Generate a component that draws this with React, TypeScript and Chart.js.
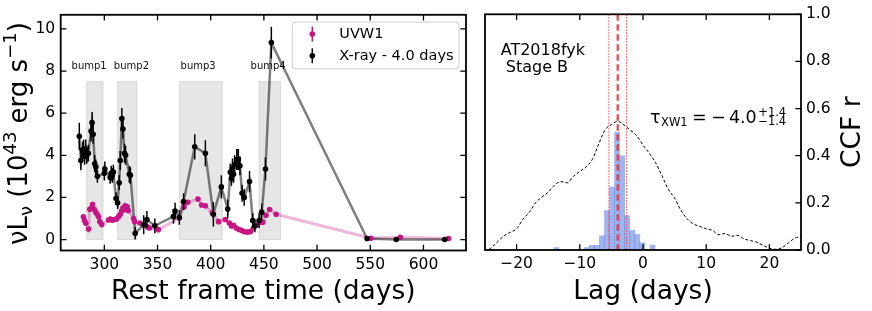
import React, { useEffect, useRef } from "react";
import { Chart, registerables } from "chart.js";

Chart.register(...registerables);

const FONT = '"DejaVu Sans", "Liberation Sans", sans-serif';
const MINUS = "\u2212";

// ---------------- Left panel data ----------------
const xrayDays = [
  276.5, 278.0, 279.5, 280.5, 281.5, 282.5, 283.5, 285.0, 287.5, 288.5, 289.5, 291.0, 292.0, 293.5,
  300.0, 300.5, 305.5, 306.5, 307.5, 308.5, 311.0, 312.5, 314.0, 315.0, 316.5, 317.5, 319.0, 320.0,
  323.5, 324.5, 329.0, 337.0, 340.0, 347.5, 365.0, 366.5, 370.5, 374.5, 385.0, 395.0, 402.5, 410.0,
  416.0, 418.5, 419.5, 420.5, 421.5, 422.5, 424.5, 426.0, 427.5, 429.5, 431.5, 436.5, 439.5, 441.5,
  445.5, 448.0, 451.5, 457.0, 547.0, 574.5, 620.0,
];
const xrayFlux = [
  4.9, 3.75, 4.25, 4.3, 3.95, 4.3, 4.0, 4.1, 5.15, 5.55, 5.0, 3.6, 3.45, 3.0,
  3.15, 3.35, 2.95, 3.15, 3.05, 3.2, 1.95, 1.75, 2.7, 3.75, 5.75, 5.25, 4.1, 4.0,
  3.1, 3.05, 0.3, 0.7, 0.95, 0.65, 1.1, 1.35, 1.05, 1.8, 4.4, 4.1, 1.2, 2.5,
  1.45, 3.2, 2.9, 3.4, 3.1, 3.55, 3.8, 3.8, 3.5, 2.2, 2.0, 2.75, 0.9, 0.65,
  0.9, 1.3, 3.35, 9.35, 0.05, 0.0, 0.0,
];
const xrayErr = [
  0.65, 0.45, 0.4, 0.45, 0.4, 0.45, 0.4, 0.4, 0.5, 0.5, 0.45, 0.4, 0.35, 0.3,
  0.35, 0.35, 0.3, 0.35, 0.35, 0.35, 0.3, 0.3, 0.35, 0.45, 0.5, 0.45, 0.45, 0.45,
  0.4, 0.4, 0.3, 0.45, 0.4, 0.35, 0.35, 0.4, 0.35, 0.4, 0.6, 0.62, 0.58, 0.55,
  0.45, 0.4, 0.35, 0.45, 0.4, 0.45, 0.5, 0.5, 0.45, 0.4, 0.4, 0.5, 0.35, 0.3,
  0.35, 0.4, 0.55, 0.75, 0.1, 0.1, 0.1,
];
const uvDays = [
  280.3, 281.3, 282.6, 285.2, 286.3, 287.5, 289.0, 290.5, 292.0, 293.2, 294.6, 295.8, 297.6,
  304.0, 305.5, 307.5, 309.5, 311.5, 313.5, 315.0, 316.3, 317.5, 318.5, 319.5, 320.5, 321.5, 322.5,
  327.5, 328.5, 333.5, 340.5, 342.5, 350.8, 370.5, 375.0, 378.5, 388.0, 391.5, 395.0, 401.5,
  407.4, 413.7, 417.5, 419.5, 421.5, 424.0, 426.5, 429.0, 431.0, 433.5, 435.5, 437.5, 440.0,
  442.5, 446.0, 449.0, 452.0, 455.4, 461.5, 550.6, 578.2, 623.6,
];
const uvFlux = [
  1.08, 0.9, 0.77, 0.5, 1.44, 1.48, 1.66, 1.44, 1.3, 1.2, 1.08, 0.85, 0.71,
  0.93, 0.97, 0.92, 0.95, 0.98, 1.1, 1.2, 1.35, 1.5, 1.42, 1.6, 1.45, 1.55, 1.38,
  1.0, 0.85, 0.78, 0.6, 0.55, 0.47, 1.02, 1.55, 1.77, 1.92, 1.64, 1.6, 1.27,
  0.85, 0.95, 0.78, 0.64, 0.68, 0.55, 0.48, 0.44, 0.38, 0.36, 0.36, 0.38, 0.53,
  0.66, 0.82, 0.82, 1.15, 1.43, 1.2, 0.06, 0.11, 0.05,
];
const bumpStart = [283.4, 312.5, 370.8, 445.4];
const bumpEnd = [298.8, 330.7, 410.9, 465.7];
const bumpName = ["bump1", "bump2", "bump3", "bump4"];
const bumpLabelDay = [285.7, 325.5, 388.2, 454.0];
const bumpTop = 7.5;
const bumpLabelLevel = 8.2;
const timeTicks = [300, 350, 400, 450, 500, 550, 600];
const fluxTicks = [0, 2, 4, 6, 8, 10];

// ---------------- Right panel data ----------------
const lagGrid = [
  -25, -24, -23, -22, -21, -20, -19, -18, -17, -16, -15, -14, -13, -12, -11, -10, -9, -8, -7, -6,
  -5, -4, -3, -2, -1, 0, 1, 2, 3, 4, 5, 6, 7, 8, 9, 10, 11, 12, 13, 14, 15, 16, 17, 18, 19, 20,
  21, 22, 23, 24, 25,
];
const ccfR = [
  -0.01, 0.01, 0.035, 0.06, 0.075, 0.09, 0.13, 0.16, 0.2, 0.225, 0.245, 0.275, 0.29, 0.285, 0.313,
  0.333, 0.353, 0.385, 0.45, 0.51, 0.532, 0.546, 0.53, 0.508, 0.485, 0.445, 0.41, 0.37, 0.315, 0.258,
  0.22, 0.168, 0.132, 0.11, 0.1, 0.09, 0.083, 0.065, 0.07, 0.058, 0.062, 0.047, 0.04, 0.033, 0.02,
  0.008, 0.003, 0.01, 0.03, 0.05, 0.057,
];
const histLag = [-13.7, -8.9, -8.1, -7.3, -6.5, -5.7, -4.9, -4.1, -3.3, -2.5, -1.7, -0.9, -0.1, 0.7, 1.5];
const histFrac = [0.01, 0.01, 0.02, 0.02, 0.06, 0.167, 0.267, 0.5, 0.4, 0.146, 0.083, 0.067, 0.03, 0.0, 0.021];
const lagMedian = -4.0;
const lagLow = -5.4;
const lagHigh = -2.6;
const lagTicks = [-20, -10, 0, 10, 20];
const ccfTicks = [0, 0.2, 0.4, 0.6, 0.8, 1.0];

// ---------------- helpers ----------------
type Part = { t: string; s: number; dy: number };

function drawParts(ctx: CanvasRenderingContext2D, parts: Part[], x: number, y: number, center: boolean) {
  let total = 0;
  const widths: number[] = [];
  for (const p of parts) {
    ctx.font = `${p.s}px ${FONT}`;
    const w = ctx.measureText(p.t).width;
    widths.push(w);
    total += w;
  }
  let cx = center ? x - total / 2 : x;
  ctx.textAlign = "left";
  ctx.textBaseline = "alphabetic";
  parts.forEach((p, i) => {
    ctx.font = `${p.s}px ${FONT}`;
    ctx.fillText(p.t, cx, y + p.dy);
    cx += widths[i];
  });
}

function drawFrame(chart: any) {
  const { ctx, chartArea: a } = chart;
  ctx.save();
  ctx.strokeStyle = "#000";
  ctx.lineWidth = 1.8;
  ctx.strokeRect(a.left, a.top, a.right - a.left, a.bottom - a.top);
  ctx.restore();
}

function drawInTicks(chart: any, sides: { bottom?: boolean; top?: boolean; left?: boolean; right?: boolean }) {
  const { ctx, chartArea: a, scales } = chart;
  const L = 5.7;
  ctx.save();
  ctx.strokeStyle = "#000";
  ctx.lineWidth = 1.3;
  ctx.beginPath();
  const xs = scales.x;
  const ys = scales.y;
  xs.ticks.forEach((t: any) => {
    const p = xs.getPixelForValue(t.value);
    if (sides.bottom) { ctx.moveTo(p, a.bottom); ctx.lineTo(p, a.bottom - L); }
    if (sides.top) { ctx.moveTo(p, a.top); ctx.lineTo(p, a.top + L); }
  });
  ys.ticks.forEach((t: any) => {
    const p = ys.getPixelForValue(t.value);
    if (sides.left) { ctx.moveTo(a.left, p); ctx.lineTo(a.left + L, p); }
    if (sides.right) { ctx.moveTo(a.right, p); ctx.lineTo(a.right - L, p); }
  });
  ctx.stroke();
  ctx.restore();
}

const fmtLag = (v: number) => (v < 0 ? MINUS + Math.abs(v) : String(v));

// ---------------- Left panel ----------------
const leftPlugin = {
  id: "leftDecor",
  beforeDatasetsDraw(chart: any) {
    const { ctx, chartArea: a, scales } = chart;
    const x = scales.x;
    const y = scales.y;
    ctx.save();
    ctx.beginPath();
    ctx.rect(a.left, a.top, a.right - a.left, a.bottom - a.top);
    ctx.clip();
    for (let i = 0; i < bumpStart.length; i++) {
      const x0 = x.getPixelForValue(bumpStart[i]);
      const x1 = x.getPixelForValue(bumpEnd[i]);
      const y0 = y.getPixelForValue(bumpTop);
      const y1 = y.getPixelForValue(0);
      ctx.fillStyle = "rgba(128,128,128,0.2)";
      ctx.fillRect(x0, y0, x1 - x0, y1 - y0);
      ctx.strokeStyle = "rgba(128,128,128,0.22)";
      ctx.lineWidth = 1;
      ctx.strokeRect(x0, y0, x1 - x0, y1 - y0);
      ctx.fillStyle = "#111";
      ctx.font = `10px ${FONT}`;
      ctx.textAlign = "center";
      ctx.textBaseline = "middle";
      ctx.fillText(bumpName[i], x.getPixelForValue(bumpLabelDay[i]), y.getPixelForValue(bumpLabelLevel));
    }
    ctx.restore();
  },
  beforeDatasetDraw(chart: any, args: any) {
    if (args.index !== 0) return;
    const { ctx, chartArea: a, scales } = chart;
    const x = scales.x;
    const y = scales.y;
    ctx.save();
    ctx.beginPath();
    ctx.rect(a.left, a.top, a.right - a.left, a.bottom - a.top);
    ctx.clip();
    ctx.strokeStyle = "#000";
    ctx.lineWidth = 1.5;
    ctx.beginPath();
    for (let i = 0; i < xrayDays.length; i++) {
      const px = x.getPixelForValue(xrayDays[i]);
      ctx.moveTo(px, y.getPixelForValue(xrayFlux[i] - xrayErr[i]));
      ctx.lineTo(px, y.getPixelForValue(xrayFlux[i] + xrayErr[i]));
    }
    ctx.stroke();
    ctx.restore();
  },
  afterDraw(chart: any) {
    const { ctx, chartArea: a } = chart;
    drawFrame(chart);
    drawInTicks(chart, { bottom: true, top: true, left: true, right: true });

    // legend
    const lx = a.right - 173.7;
    const ly = a.top + 7.3;
    const lw = 166.7;
    const lh = 46.7;
    ctx.save();
    ctx.fillStyle = "rgba(255,255,255,0.85)";
    ctx.strokeStyle = "#cccccc";
    ctx.lineWidth = 1;
    ctx.beginPath();
    (ctx as any).roundRect(lx, ly, lw, lh, 3);
    ctx.fill();
    ctx.stroke();
    const rows = [
      { label: chart.data.datasets[1].label, color: "#c71585", dy: 12 },
      { label: chart.data.datasets[0].label, color: "#000000", dy: 33.7 },
    ];
    rows.forEach((r) => {
      const cy = ly + r.dy;
      const mx = lx + 20;
      ctx.strokeStyle = r.color;
      ctx.lineWidth = 1.5;
      ctx.beginPath();
      ctx.moveTo(mx, cy - 7.5);
      ctx.lineTo(mx, cy + 7.5);
      ctx.stroke();
      ctx.fillStyle = r.color;
      ctx.beginPath();
      ctx.arc(mx, cy, 2.8, 0, Math.PI * 2);
      ctx.fill();
      ctx.fillStyle = "#000";
      ctx.font = `14.5px ${FONT}`;
      ctx.textAlign = "left";
      ctx.textBaseline = "middle";
      ctx.fillText(r.label, lx + 47, cy);
    });
    ctx.restore();

    // y title
    ctx.save();
    ctx.fillStyle = "#000";
    ctx.translate(27, (a.top + a.bottom) / 2 + 1);
    ctx.rotate(-Math.PI / 2);
    drawParts(
      ctx,
      [
        { t: "\u03bdL", s: 26, dy: 0 },
        { t: "\u03bd", s: 18, dy: 5 },
        { t: " (10", s: 26, dy: 0 },
        { t: "43", s: 18, dy: -11 },
        { t: " erg s", s: 26, dy: 0 },
        { t: MINUS + "1", s: 18, dy: -11 },
        { t: ")", s: 26, dy: 0 },
      ],
      0,
      0,
      true
    );
    ctx.restore();
  },
};

function LeftPanel() {
  const ref = useRef<HTMLCanvasElement>(null);
  useEffect(() => {
    const xrayPts = xrayDays.map((d, i) => ({ x: d, y: xrayFlux[i] }));
    const uvPts = uvDays.map((d, i) => ({ x: d, y: uvFlux[i] }));
    const chart = new Chart(ref.current as HTMLCanvasElement, {
      type: "line",
      data: {
        datasets: [
          { label: "X-ray - 4.0 days", data: xrayPts, showLine: false, pointRadius: 2.8, pointBackgroundColor: "#000", pointBorderWidth: 0, order: 0 },
          { label: "UVW1", data: uvPts, showLine: false, pointRadius: 2.8, pointBackgroundColor: "#c71585", pointBorderWidth: 0, order: 1 },
          { label: "xray line", data: xrayPts, borderColor: "rgba(0,0,0,0.5)", borderWidth: 2.5, pointRadius: 0, order: 2 },
          { label: "uv line", data: uvPts, borderColor: "rgba(199,21,133,0.3)", borderWidth: 3, pointRadius: 0, order: 3 },
        ],
      } as any,
      options: {
        animation: false,
        responsive: false,
        devicePixelRatio: 1,
        events: [],
        layout: { padding: { top: 10, right: 12, left: 0, bottom: 0 } },
        plugins: { legend: { display: false }, tooltip: { enabled: false } },
        scales: {
          x: {
            type: "linear",
            min: 259,
            max: 640,
            afterBuildTicks: (s: any) => { s.ticks = timeTicks.map((v) => ({ value: v })); },
            afterFit: (s: any) => { s.height = 60.5; },
            grid: { display: false, drawTicks: false },
            border: { display: false },
            ticks: { font: { family: FONT, size: 15.5 }, color: "#000", padding: 5, maxRotation: 0, autoSkip: false },
            title: { display: true, text: "Rest frame time (days)", font: { family: FONT, size: 26.5 }, color: "#000", padding: { top: 0, bottom: 2.7 } },
          },
          y: {
            type: "linear",
            min: -0.52,
            max: 10.67,
            afterBuildTicks: (s: any) => { s.ticks = fluxTicks.map((v) => ({ value: v })); },
            afterFit: (s: any) => { s.width = 60.7; },
            grid: { display: false, drawTicks: false },
            border: { display: false },
            ticks: { font: { family: FONT, size: 15.5 }, color: "#000", padding: 5.5, autoSkip: false },
          },
        },
      } as any,
      plugins: [leftPlugin],
    });
    return () => chart.destroy();
  }, []);
  return <canvas ref={ref} width={478} height={311} style={{ position: "absolute", left: 0, top: 0 }} />;
}

// ---------------- Right panel ----------------
const rightPlugin = {
  id: "rightDecor",
  afterDatasetsDraw(chart: any) {
    const { ctx, chartArea: a, scales } = chart;
    const x = scales.x;
    ctx.save();
    ctx.beginPath();
    ctx.rect(a.left, a.top, a.right - a.left, a.bottom - a.top);
    ctx.clip();
    [lagLow, lagHigh].forEach((v) => {
      const p = x.getPixelForValue(v);
      ctx.strokeStyle = "rgba(255,40,40,0.8)";
      ctx.lineWidth = 1.1;
      ctx.setLineDash([1.5, 1.5]);
      ctx.beginPath();
      ctx.moveTo(p, a.top);
      ctx.lineTo(p, a.bottom);
      ctx.stroke();
    });
    const pm = x.getPixelForValue(lagMedian);
    ctx.strokeStyle = "rgba(235,40,45,0.85)";
    ctx.lineWidth = 2.3;
    ctx.setLineDash([6.5, 3.5]);
    ctx.beginPath();
    ctx.moveTo(pm, a.top);
    ctx.lineTo(pm, a.bottom);
    ctx.stroke();
    ctx.restore();
  },
  afterDraw(chart: any) {
    const { ctx, chartArea: a } = chart;
    drawFrame(chart);
    drawInTicks(chart, { bottom: true, top: true, right: true });
    ctx.save();
    ctx.fillStyle = "#000";
    ctx.font = `16px ${FONT}`;
    ctx.textAlign = "left";
    ctx.textBaseline = "alphabetic";
    ctx.fillText("AT2018fyk", a.left + 15.7, a.top + 40.5);
    ctx.fillText(" Stage B", a.left + 15.7, a.top + 58);

    // tau annotation (mathtext-like layout)
    let cx = a.left + 165;
    const ty = a.top + 108.5;
    const put = (t: string, size: number, dy: number, gapAfter: number) => {
      ctx.font = `${size}px ${FONT}`;
      ctx.fillText(t, cx, ty + dy);
      cx += ctx.measureText(t).width + gapAfter;
    };
    put("\u03c4", 17.5, 0, 0.5);
    put("XW1", 11.5, 3, 4.5);
    put("=", 17.5, 0, 4.5);
    put(MINUS, 17.5, 0, 3);
    put("4.0", 17.5, 0, 1.5);
    ctx.font = `11.5px ${FONT}`;
    ctx.fillText("+1.4", cx, ty - 7);
    ctx.fillText(MINUS + "1.4", cx, ty + 2.5);

    // right title
    ctx.translate(382, (a.top + a.bottom) / 2);
    ctx.rotate(-Math.PI / 2);
    ctx.font = `26.5px ${FONT}`;
    ctx.textAlign = "center";
    ctx.fillText("CCF r", 0, 0);
    ctx.restore();
  },
};

function RightPanel() {
  const ref = useRef<HTMLCanvasElement>(null);
  useEffect(() => {
    const chart = new Chart(ref.current as HTMLCanvasElement, {
      type: "line",
      data: {
        datasets: [
          {
            type: "line",
            label: "CCF",
            data: lagGrid.map((l, i) => ({ x: l, y: ccfR[i] })),
            borderColor: "#000",
            borderWidth: 1,
            borderDash: [3, 2],
            pointRadius: 0,
            cubicInterpolationMode: "monotone",
            order: 0,
          },
          {
            type: "bar",
            label: "CCCD",
            data: histLag.map((l, i) => ({ x: l, y: histFrac[i] })),
            backgroundColor: "rgba(65,105,225,0.5)",
            borderWidth: 0,
            barPercentage: 1,
            categoryPercentage: 1,
            order: 1,
          },
        ],
      } as any,
      options: {
        animation: false,
        responsive: false,
        devicePixelRatio: 1,
        events: [],
        layout: { padding: { top: 10, right: 0, left: 7, bottom: 0 } },
        plugins: { legend: { display: false }, tooltip: { enabled: false } },
        scales: {
          x: {
            type: "linear",
            min: -25,
            max: 25,
            offset: false,
            afterBuildTicks: (s: any) => { s.ticks = lagTicks.map((v) => ({ value: v })); },
            afterFit: (s: any) => { s.height = 61; },
            grid: { display: false, drawTicks: false, offset: false },
            border: { display: false },
            ticks: { font: { family: FONT, size: 15.5 }, color: "#000", padding: 5, maxRotation: 0, autoSkip: false, callback: (v: any) => fmtLag(Number(v)) },
            title: { display: true, text: "Lag (days)", font: { family: FONT, size: 26.5 }, color: "#000", padding: { top: 0, bottom: 2.7 } },
          },
          y: {
            type: "linear",
            position: "right",
            min: 0,
            max: 1,
            afterBuildTicks: (s: any) => { s.ticks = ccfTicks.map((v) => ({ value: v })); },
            afterFit: (s: any) => { s.width = 71; },
            grid: { display: false, drawTicks: false },
            border: { display: false },
            ticks: { font: { family: FONT, size: 15.5 }, color: "#000", padding: 5, autoSkip: false, callback: (v: any) => Number(v).toFixed(1) },
          },
        },
      } as any,
      plugins: [rightPlugin],
    });
    return () => chart.destroy();
  }, []);
  return <canvas ref={ref} width={394} height={311} style={{ position: "absolute", left: 478, top: 0 }} />;
}

export default function App() {
  return (
    <div style={{ position: "absolute", left: 0, top: 0, width: 872, height: 311, background: "#fff" }}>
      <LeftPanel />
      <RightPanel />
    </div>
  );
}
